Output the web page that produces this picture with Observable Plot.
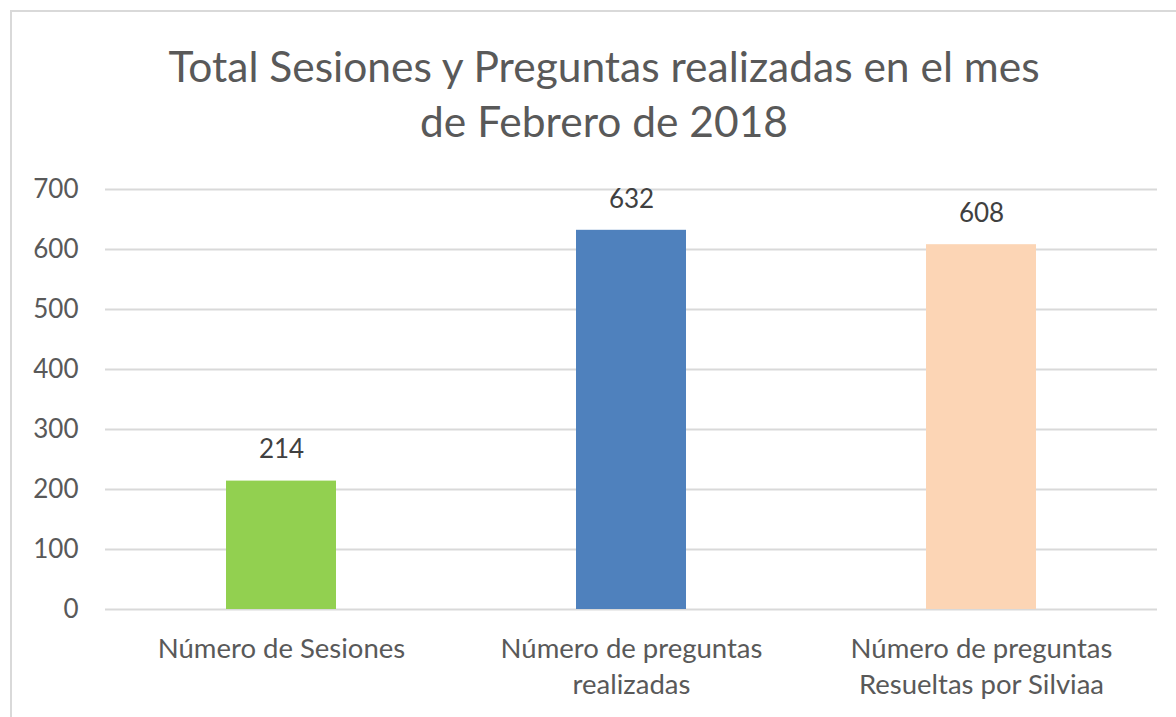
<!DOCTYPE html>
<html><head><meta charset="utf-8">
<script src="https://cdn.jsdelivr.net/npm/d3@7"></script>
<script src="https://cdn.jsdelivr.net/npm/@observablehq/plot@0.6"></script>
<style>
html,body{margin:0;padding:0;background:#fff;width:1176px;height:717px;overflow:hidden;font-family:Lato,"Open Sans",sans-serif;}
#frame{position:absolute;left:10px;top:10px;width:1180px;height:720px;border:2px solid #d9d9d9;box-sizing:border-box;}
#title{position:absolute;left:0;top:38px;width:1208px;text-align:center;font-size:42.5px;line-height:55px;color:#595959;}
#chart{position:absolute;left:0;top:0;}
</style></head>
<body>
<div id="frame"></div>
<div id="chart"></div>
<div id="title">Total Sesiones y Preguntas realizadas en el mes<br>de Febrero de 2018</div>
<script>
const categories = ["Número de Sesiones", "Número de preguntas\nrealizadas", "Número de preguntas\nResueltas por Silviaa"];
const values = [214, 632, 608];
const colors = ["#92D050", "#4F81BD", "#FCD5B5"];
const yTicks = [0, 100, 200, 300, 400, 500, 600, 700];

const data = categories.map((c, i) => ({cat: c, value: values[i], color: colors[i]}));

const chart = Plot.plot({
  width: 1176,
  height: 717,
  marginLeft: 105,
  marginRight: 19,
  marginTop: 189,
  marginBottom: 108,
  style: {fontFamily: "Lato, 'Open Sans', sans-serif", background: "transparent"},
  x: {domain: categories, paddingInner: 0.686, paddingOuter: 0.343, label: null},
  y: {domain: [0, 700], label: null},
  marks: [
    Plot.gridY(yTicks, {stroke: "#d9d9d9", strokeOpacity: 1, strokeWidth: 2}),
    Plot.barY(data, {x: "cat", y: "value", fill: "color"}),
    Plot.text(data, {x: "cat", y: "value", text: d => String(d.value), dy: -31, fontSize: 26, fill: "#404040"}),
    Plot.axisY(yTicks, {tickSize: 0, tickPadding: 27, fontSize: 26, color: "#595959", label: null}),
    Plot.axisX({tickSize: 0, tickPadding: 23, fontSize: 27.5, lineHeight: 1.3, color: "#595959", label: null})
  ]
});
document.getElementById("chart").appendChild(chart);
</script>
</body></html>
